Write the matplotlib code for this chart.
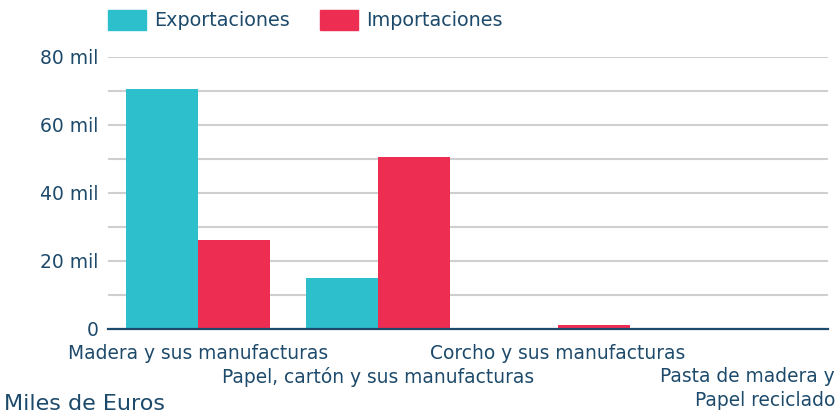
import matplotlib
matplotlib.use("Agg")
from matplotlib import pyplot as plt
import numpy as np

categorias = ["Madera y sus manufacturas", "Papel, cartón y sus manufacturas",
              "Corcho y sus manufacturas", "Pasta de madera y\nPapel reciclado"]
exportaciones = [70.6, 15.0, 0.1, 0.0]
importaciones = [26.2, 50.6, 1.2, 0.0]
ticks_y = [0, 20, 40, 60, 80]
etiquetas_y = ["0", "20 mil", "40 mil", "60 mil", "80 mil"]

color_exp = "#2ebfcc"
color_imp = "#ee2d52"
color_texto = "#1d4a6b"

plt.rcParams['font.family'] = ['DejaVu Sans']

fig = plt.figure(figsize=(8.39, 4.16), dpi=100)
ax = fig.add_axes([108/839, 87/416, 720/839, 272/416])

x = np.arange(len(categorias))
ancho = 0.395
ax.bar(x - 0.2, exportaciones, ancho, color=color_exp, zorder=3)
ax.bar(x + 0.2, importaciones, ancho, color=color_imp, zorder=3)

ax.set_xlim(-0.5, 3.5)
ax.set_ylim(0, 80)
ax.set_yticks(ticks_y)
ax.set_yticklabels(etiquetas_y)
ax.set_yticks(np.arange(10, 80, 20), minor=True)
ax.grid(axis='y', which='both', color='#cfcfcf', linewidth=1.5, zorder=0)
ax.tick_params(axis='y', which='both', length=0, pad=7, labelsize=13.5, labelcolor=color_texto)
ax.set_xticks([])
for lado in ['top', 'right', 'left']:
    ax.spines[lado].set_visible(False)
ax.spines['bottom'].set_color(color_texto)
ax.spines['bottom'].set_linewidth(1.6)
ax.spines['bottom'].set_zorder(4)

# etiquetas del eje x escalonadas
for i, nombre in enumerate(categorias):
    desplaz = -0.055 if i % 2 == 0 else -0.14
    if i == 3:
        ax.text(1.0 + 7/720, desplaz, nombre, transform=ax.transAxes, ha='right', va='top',
                fontsize=13.4, color=color_texto, linespacing=1.35)
    else:
        ax.text(i, desplaz, nombre, transform=ax.get_xaxis_transform(), ha='center', va='top',
                fontsize=13.4, color=color_texto)

fig.text(4/839, 1 - 404/416, "Miles de Euros", fontsize=16, color=color_texto, va='center')

# leyenda
fig.patches.append(plt.Rectangle((108/839, 1 - 30/416), 38/839, 20/416, color=color_exp,
                                 transform=fig.transFigure, figure=fig))
fig.text(154/839, 1 - 20/416, "Exportaciones", fontsize=13.8, color=color_texto, va='center')
fig.patches.append(plt.Rectangle((320/839, 1 - 30/416), 38/839, 20/416, color=color_imp,
                                 transform=fig.transFigure, figure=fig))
fig.text(366/839, 1 - 20/416, "Importaciones", fontsize=13.8, color=color_texto, va='center')

fig.savefig("out.png", dpi=100)
